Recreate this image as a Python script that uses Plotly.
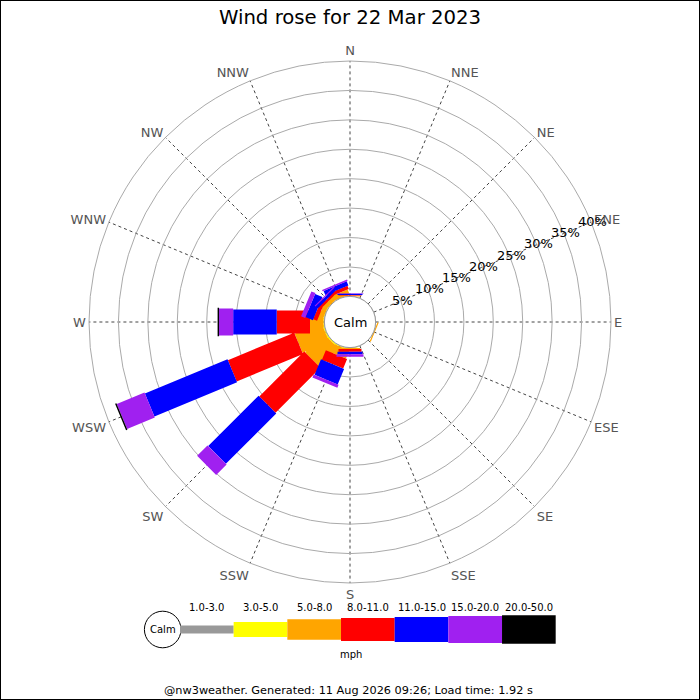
import math
import plotly.graph_objects as go

# ---------------- data ----------------
directions = ["N", "NNE", "NE", "ENE", "E", "ESE", "SE", "SSE",
              "S", "SSW", "SW", "WSW", "W", "WNW", "NW", "NNW"]
speed_bins = ["1.0-3.0", "3.0-5.0", "5.0-8.0", "8.0-11.0",
              "11.0-15.0", "15.0-20.0", "20.0-50.0"]
speed_unit = "mph"

# frequency (%) per direction for each speed bin
freq_1_3 = [0, 0, 0, 0, 0, 0, 0, 0, 0, 0, 0, 0, 0, 0, 0, 0]
freq_3_5 = [0, 0, 0, 0, 0, 0, 0, 0, 0.05, 0.15, 0.2, 0.2, 0.15, 0.1, 0.05, 0]
freq_5_8 = [0.15, 0, 0, 0, 0, 0.2, 0, 0, 0.2, 1.5, 4.5, 4.9, 2.3, 0.8, 0.7, 0.9]
freq_8_11 = [0.1, 0, 0, 0, 0, 0, 0, 0, 0.45, 1.75, 10.8, 12.2, 5.65, 0.7, 0.4, 0.6]
freq_11_15 = [0.2, 0, 0, 0, 0, 0, 0, 0, 0.45, 2.85, 12.1, 15.2, 7.4, 1.35, 0.5, 0.75]
freq_15_20 = [0.1, 0, 0, 0, 0, 0, 0, 0, 0.4, 0.55, 2.5, 5.1, 2.4, 0.75, 0.2, 0.25]
freq_20_50 = [0, 0, 0, 0, 0, 0, 0, 0, 0, 0, 0, 0.25, 0.25, 0, 0, 0]

radial_ticks = [5, 10, 15, 20, 25, 30, 35, 40]
radial_labels = ["5%", "10%", "15%", "20%", "25%", "30%", "35%", "40%"]

title_text = "Wind rose for 22 Mar 2023"
footer_text = "@nw3weather. Generated: 11 Aug 2026 09:26; Load time: 1.92 s"

# ---------------- style ----------------
series = [freq_1_3, freq_3_5, freq_5_8, freq_8_11, freq_11_15, freq_15_20, freq_20_50]
colors = ["#999999", "#FFFF00", "#FFA500", "#FF0000", "#0000FF", "#A020F0", "#000000"]
leg_px = [8, 15, 20.5, 23, 25, 27, 28.7]   # leg thickness in pixels per bin

W = H = 700
CX, CY = 350, 322          # polar centre (px from top-left)
R_PX = 261                 # outer radius px
HOLE_PX = 25.6             # calm circle radius px
RMAX = 40
K = (R_PX - HOLE_PX) / RMAX  # px per percent
FONT = "DejaVu Sans"
LABEL_ANGLE = 22.5         # radial labels drawn along ENE

dir_angle = {d: i * 360 / len(directions) for i, d in enumerate(directions)}


def leg_polygon(theta, r0, r1, wpx):
    """Constant-width leg segment expressed in polar data coordinates."""
    h = wpx / 2
    pts = []
    for D in (HOLE_PX + r0 * K, HOLE_PX + r1 * K):
        Dc = math.hypot(D, h)
        phi = math.degrees(math.atan2(h, D))
        pts.append(((Dc - HOLE_PX) / K, phi))
    (ra, pa), (rb, pb) = pts
    rs = [ra, rb, rb, ra, ra]
    ts = [theta - pa, theta - pb, theta + pb, theta + pa, theta - pa]
    return rs, ts


fig = go.Figure()
cum = [0.0] * len(directions)
for b, vals in enumerate(series):
    r_all, t_all = [], []
    for j, d in enumerate(directions):
        v = vals[j]
        if v > 0:
            rs, ts = leg_polygon(dir_angle[d], cum[j], cum[j] + v, leg_px[b])
            r_all += rs + [None]
            t_all += ts + [None]
        cum[j] += v
    if not r_all:
        r_all, t_all = [None], [None]
    fig.add_trace(go.Scatterpolar(
        r=r_all, theta=t_all, mode="lines", fill="toself",
        fillcolor=colors[b], line=dict(width=0, color=colors[b]),
        name=speed_bins[b], hoverinfo="skip", showlegend=False))

dom_x = [(CX - R_PX) / W, (CX + R_PX) / W]
dom_y = [(H - CY - R_PX) / H, (H - CY + R_PX) / H]

fig.update_layout(
    width=W, height=H,
    margin=dict(l=0, r=0, t=0, b=0),
    paper_bgcolor="white", plot_bgcolor="white",
    font=dict(family=FONT, color="black"),
    title=dict(text=title_text, x=0.5, xanchor="center", xref="paper",
               y=1 - 17 / H, yref="container", yanchor="middle",
               font=dict(size=19.7, family=FONT, color="black")),
    polar=dict(
        domain=dict(x=dom_x, y=dom_y),
        hole=HOLE_PX / R_PX,
        bgcolor="white",
        angularaxis=dict(
            rotation=90, direction="clockwise", thetaunit="degrees",
            tickmode="array",
            tickvals=[dir_angle[d] for d in directions], ticktext=directions,
            tickfont=dict(size=13, color="#555555", family=FONT),
            ticks="", showline=True, linecolor="#aaaaaa", linewidth=1,
            showgrid=True, gridcolor="#444444", gridwidth=1, griddash="dot"),
        radialaxis=dict(
            range=[0, RMAX], angle=LABEL_ANGLE,
            tickmode="array", tickvals=radial_ticks, ticktext=radial_labels,
            showticklabels=False,
            ticks="", showline=False, showgrid=True,
            gridcolor="#aaaaaa", gridwidth=1),
    ),
)


def px_x(x):
    return x / W


def px_y(y):
    return (H - y) / H


shapes = []
annotations = []
# radial tick labels centred on the ENE spoke at each ring
ca, sa = math.cos(math.radians(LABEL_ANGLE)), math.sin(math.radians(LABEL_ANGLE))
for t, lab in zip(radial_ticks, radial_labels):
    D = HOLE_PX + t * K
    annotations.append(dict(text=lab, x=px_x(CX + D * ca + 1.5), y=px_y(CY - D * sa - 0.7),
                            xref="paper", yref="paper", xanchor="center", yanchor="middle",
                            showarrow=False, font=dict(size=13, color="black", family=FONT)))

# calm circle at centre
shapes.append(dict(type="circle", xref="paper", yref="paper",
                   x0=px_x(CX - HOLE_PX), x1=px_x(CX + HOLE_PX),
                   y0=px_y(CY + HOLE_PX), y1=px_y(CY - HOLE_PX),
                   line=dict(color="#999999", width=1), fillcolor="white", layer="above"))
annotations.append(dict(text="Calm", x=px_x(CX), y=px_y(CY), xref="paper", yref="paper",
                        xanchor="center", yanchor="middle",
                        showarrow=False, font=dict(size=13, color="black", family=FONT)))

# legend
LEG_X0, LEG_CY, LEG_W = 180, 629.5, 53.67
CALM_R = 18.3
shapes.append(dict(type="circle", xref="paper", yref="paper",
                   x0=px_x(162.7 - CALM_R), x1=px_x(162.7 + CALM_R),
                   y0=px_y(LEG_CY + CALM_R), y1=px_y(LEG_CY - CALM_R),
                   line=dict(color="black", width=1), fillcolor="white"))
annotations.append(dict(text="Calm", x=px_x(162.7), y=px_y(LEG_CY), xref="paper", yref="paper",
                        xanchor="center", yanchor="middle",
                        showarrow=False, font=dict(size=10, color="black", family=FONT)))
for b, lab in enumerate(speed_bins):
    x0 = LEG_X0 + b * LEG_W
    x1 = x0 + LEG_W
    hh = leg_px[b] / 2
    shapes.append(dict(type="rect", xref="paper", yref="paper",
                       x0=px_x(x0), x1=px_x(x1),
                       y0=px_y(LEG_CY + hh), y1=px_y(LEG_CY - hh),
                       line=dict(width=0), fillcolor=colors[b]))
    annotations.append(dict(text=lab, x=px_x((x0 + x1) / 2), y=px_y(607), xref="paper",
                            yref="paper", showarrow=False, xanchor="center", yanchor="middle",
                            font=dict(size=10, color="black", family=FONT)))
annotations.append(dict(text=speed_unit, x=px_x(351), y=px_y(654), xref="paper", yref="paper",
                        xanchor="center", yanchor="middle",
                        showarrow=False, font=dict(size=10, color="black", family=FONT)))
annotations.append(dict(text=footer_text, x=px_x(348), y=px_y(690), xref="paper", yref="paper",
                        xanchor="center", yanchor="middle",
                        showarrow=False, font=dict(size=11.3, color="black", family=FONT)))
# frame
shapes.append(dict(type="rect", xref="paper", yref="paper", x0=0, x1=1, y0=0, y1=1,
                   line=dict(color="black", width=2), fillcolor="rgba(0,0,0,0)"))

fig.update_layout(shapes=shapes, annotations=annotations)
fig.write_html("out.html", config={"displayModeBar": False},
               post_script="document.body.style.margin='0';document.body.style.overflow='hidden';")
